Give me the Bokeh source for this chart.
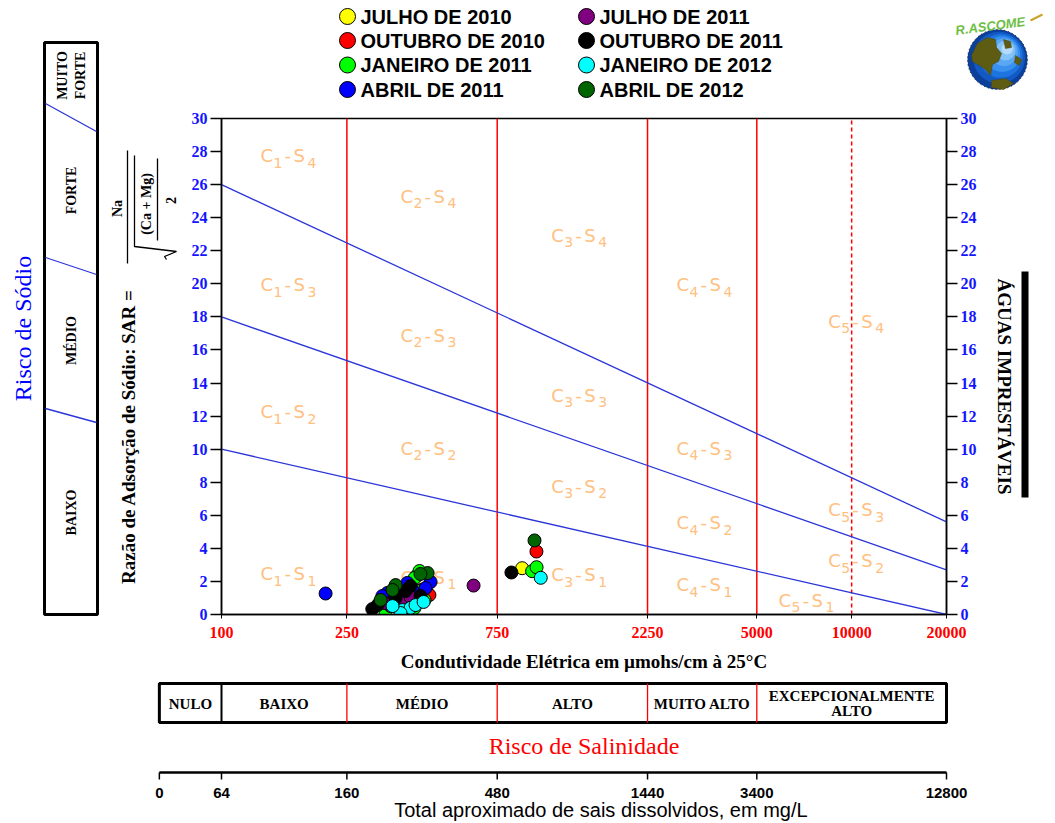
import math
from bokeh.plotting import figure
from bokeh.models import (Range1d, LinearAxis, LogAxis, FixedTicker, ColumnDataSource,
                          NumeralTickFormatter)
from bokeh.layouts import row, column
from bokeh.embed import file_html
from bokeh.resources import INLINE
from bokeh.core.properties import value

# ---------------------------------------------------------------------------
# Samples: electrical conductivity (µmhos/cm at 25 °C) and SAR, per campaign
# ---------------------------------------------------------------------------
series_names = ["JULHO DE 2010", "OUTUBRO DE 2010", "JANEIRO DE 2011", "ABRIL DE 2011",
                "JULHO DE 2011", "OUTUBRO DE 2011", "JANEIRO DE 2012", "ABRIL DE 2012"]
series_colors = ["#FFFF00", "#FF0000", "#00FF00", "#0000FF",
                 "#800080", "#000000", "#00FFFF", "#006400"]

ec_jul_2010 = [900, 416, 384, 344, 447]
sar_jul_2010 = [2.80, 2.33, 1.06, 0.70, 1.36]
ec_out_2010 = [999, 457, 431, 378, 339]
sar_out_2010 = [3.81, 1.18, 1.48, 0.88, 0.51]
ec_jan_2011 = [968, 1000, 425, 410, 441, 410, 331, 419]
sar_jan_2011 = [2.62, 2.86, 2.63, 2.21, 0.88, 0.40, 0.21, 1.42]
ec_abr_2011 = [214, 461, 444, 389, 370, 336, 324, 357, 404]
sar_abr_2011 = [1.27, 1.97, 1.60, 1.91, 1.30, 1.30, 1.12, 1.48, 1.48]
ec_jul_2011 = [631, 410, 434, 344, 329, 370, 398]
sar_jul_2011 = [1.75, 0.82, 0.82, 0.51, 0.70, 0.88, 1.06]
ec_out_2011 = [832, 384, 313, 301, 428, 357, 398]
sar_out_2011 = [2.54, 1.42, 0.57, 0.33, 1.12, 1.00, 1.72]
ec_jan_2012 = [1031, 375, 398, 413, 438, 370, 349]
sar_jan_2012 = [2.22, 0.27, 0.40, 0.57, 0.76, 0.09, 0.51]
ec_abr_2012 = [985, 451, 357, 349, 428, 320]
sar_abr_2012 = [4.48, 2.51, 1.78, 1.48, 2.45, 0.88]

series_ec = [ec_jul_2010, ec_out_2010, ec_jan_2011, ec_abr_2011,
             ec_jul_2011, ec_out_2011, ec_jan_2012, ec_abr_2012]
series_sar = [sar_jul_2010, sar_out_2010, sar_jan_2011, sar_abr_2011,
              sar_jul_2011, sar_out_2011, sar_jan_2012, sar_abr_2012]

# Axes
ec_ticks = [100, 250, 750, 2250, 5000, 10000, 20000]
ec_tick_labels = ["100", "250", "750", "2250", "5000", "10000", "20000"]
sar_ticks = [0, 2, 4, 6, 8, 10, 12, 14, 16, 18, 20, 22, 24, 26, 28, 30]

# Salinity class limits (EC)
salinity_limits = [250, 750, 2250, 5000]
salinity_limit_dashed = [10000]

# Sodium hazard boundaries: SAR at EC = 100 and at EC = 20000
boundary_sar_at_100 = [10, 18, 26]
boundary_sar_at_20000 = [0, 2.7, 5.6]

# Class labels C(salinity) - S(sodium)
zone_c = [1, 1, 1, 1, 2, 2, 2, 2, 3, 3, 3, 3, 4, 4, 4, 4, 5, 5, 5, 5]
zone_s = [4, 3, 2, 1, 4, 3, 2, 1, 4, 3, 2, 1, 4, 3, 2, 1, 4, 3, 2, 1]

# Salinity hazard table
salinity_classes = ["NULO", "BAIXO", "MÉDIO", "ALTO", "MUITO ALTO", "EXCEPCIONALMENTE|ALTO"]
salinity_edges = [63.5, 100, 250, 750, 2250, 5000, 20000]

# Approximate total dissolved salts (mg/L) scale
tds_ec = [63.5, 100, 250, 750, 2250, 5000, 20000]
tds_labels = ["0", "64", "160", "480", "1440", "3400", "12800"]

# Sodium hazard panel
sodium_classes = ["BAIXO", "MÉDIO", "FORTE", "MUITO|FORTE"]

# ---------------------------------------------------------------------------
# Page geometry (pixels)
# ---------------------------------------------------------------------------
W, H = 1055, 823
LEFT_W, TOP_H, RIGHT_W = 183, 105, 65
MAIN_W = W - LEFT_W - RIGHT_W
MAIN_H = 570
BOTTOM_H = H - TOP_H - MAIN_H
FRAME_L, FRAME_R, FRAME_T, FRAME_B = 221, 946, 118, 614

SERIF = value("Liberation Serif")
SANS = value("Liberation Sans")
BLUE_TXT = "#1414FF"
ZONE_COLOR = "#FFC080"


def blank(width, height, x_range, y_range, **kw):
    opts = dict(min_border=0)
    opts.update(kw)
    f = figure(width=width, height=height, x_range=x_range, y_range=y_range,
               output_backend="svg", toolbar_location=None,
               x_axis_location=None, y_axis_location=None,
               outline_line_color=None, background_fill_color="white",
               border_fill_color="white", **opts)
    f.grid.visible = False
    return f


# ---------------------------------------------------------------------------
# Main diagram
# ---------------------------------------------------------------------------
p = figure(width=MAIN_W, height=MAIN_H, x_axis_type="log",
           x_range=Range1d(ec_ticks[0], ec_ticks[-1]), y_range=Range1d(sar_ticks[0], sar_ticks[-1]),
           output_backend="svg", toolbar_location=None,
           x_axis_location=None, y_axis_location=None,
           min_border_left=FRAME_L - LEFT_W, min_border_right=LEFT_W + MAIN_W - FRAME_R,
           min_border_top=FRAME_T - TOP_H, min_border_bottom=TOP_H + MAIN_H - FRAME_B,
           outline_line_color="black", outline_line_width=1.5,
           background_fill_color="white", border_fill_color="white")
p.grid.visible = False

for side in ("left", "right"):
    ax = LinearAxis(ticker=FixedTicker(ticks=sar_ticks))
    ax.major_label_text_color = BLUE_TXT
    ax.major_label_text_font = "Liberation Serif"
    ax.major_label_text_font_style = "bold"
    ax.major_label_text_font_size = "16px"
    ax.major_tick_out = 11
    ax.major_tick_in = 0
    ax.minor_tick_out = 0
    ax.minor_tick_in = 0
    ax.axis_line_width = 1.5
    ax.major_tick_line_width = 1.5
    ax.major_label_standoff = 3
    p.add_layout(ax, side)

xax = LogAxis(ticker=FixedTicker(ticks=ec_ticks),
              formatter=NumeralTickFormatter(format="0"),
              major_label_overrides=dict(zip(ec_ticks, ec_tick_labels)),
              axis_label="Condutividade Elétrica em µmohs/cm à 25°C")
xax.major_label_text_color = "#FF0000"
xax.major_label_text_font = "Liberation Serif"
xax.major_label_text_font_style = "bold"
xax.major_label_text_font_size = "16px"
xax.major_tick_out = 4
xax.major_tick_in = 0
xax.minor_tick_out = 0
xax.minor_tick_in = 0
xax.axis_line_width = 1.5
xax.major_label_standoff = 8
xax.axis_label_text_font = "Liberation Serif"
xax.axis_label_text_font_style = "bold"
xax.axis_label_text_font_size = "19px"
xax.axis_label_text_color = "black"
xax.axis_label_standoff = 10
p.add_layout(xax, "below")

# salinity class limits
p.segment(x0=salinity_limits, y0=sar_ticks[0], x1=salinity_limits, y1=sar_ticks[-1],
          line_color="#FF0000", line_width=1.5)
p.segment(x0=salinity_limit_dashed, y0=sar_ticks[0], x1=salinity_limit_dashed, y1=sar_ticks[-1],
          line_color="#FF0000", line_width=1.5, line_dash="4 3")

# sodium hazard boundaries
n_b = len(boundary_sar_at_100)
p.segment(x0=[ec_ticks[0]] * n_b, y0=boundary_sar_at_100,
          x1=[ec_ticks[-1]] * n_b, y1=boundary_sar_at_20000,
          line_color="#2B35D8", line_width=1.3)

# class labels, drawn as pieces so the indices sit as subscripts
zone_label_ec = [133] * 4 + [370] * 4 + [1114] * 4 + [2780] * 4 + [8430, 8430, 8430, 5860]
zone_label_sar = [27.75, 19.95, 12.25, 2.45, 25.3, 16.9, 10.05, 2.25,
                  22.95, 13.25, 7.75, 2.4, 19.95, 10.05, 5.55, 1.8,
                  17.75, 6.35, 3.25, 0.85]
pieces = dict(x=[], y=[], text=[], dx=[], dy=[], size=[])
for c, s, ex, ey in zip(zone_c, zone_s, zone_label_ec, zone_label_sar):
    for txt, dx, dy, size in (("C", 0, 0, "18px"), (str(c), 13, 7, "14px"),
                              ("-", 24, 0, "18px"), ("S", 33, 0, "18px"),
                              (str(s), 47, 7, "14px")):
        pieces["x"].append(ex)
        pieces["y"].append(ey)
        pieces["text"].append(txt)
        pieces["dx"].append(dx)
        pieces["dy"].append(dy)
        pieces["size"].append(size)
p.text(x="x", y="y", text="text", x_offset="dx", y_offset="dy",
       text_font_size="size", text_font=value("DejaVu Sans"),
       text_color=ZONE_COLOR, text_align="left", text_baseline="alphabetic",
       source=ColumnDataSource(pieces))

for ec, sar, col in zip(series_ec, series_sar, series_colors):
    p.scatter(ec, sar, size=13, fill_color=col, line_color="black", line_width=1)

# ---------------------------------------------------------------------------
# Left panel: sodium hazard scale and SAR formula
# ---------------------------------------------------------------------------
left = blank(LEFT_W, TOP_H + MAIN_H, Range1d(0, LEFT_W), Range1d(TOP_H + MAIN_H, 0))
left.text(x=[22], y=[328], text=["Risco de Sódio"], angle=math.pi / 2,
          text_font=SERIF, text_font_size="24px", text_color="#0000FF",
          text_align="center", text_baseline="middle")
left.quad(left=[44], right=[97], top=[42], bottom=[FRAME_B], fill_color=None,
          line_color="black", line_width=3)
left.segment(x0=[45, 45, 45], y0=[408, 257, 103], x1=[96, 96, 96], y1=[422, 274, 131],
             line_color="#2B35D8", line_width=1.3)
box_txt_x, box_txt_y, box_txt = [], [], []
for name, yc in zip(sodium_classes, [512, 340, 190, 75]):
    parts = name.split("|")
    for k, part in enumerate(parts):
        box_txt_x.append(71 + (k - (len(parts) - 1) / 2) * 18)
        box_txt_y.append(yc)
        box_txt.append(part)
left.text(x=box_txt_x, y=box_txt_y, text=box_txt, angle=math.pi / 2,
          text_font=SERIF, text_font_style="bold", text_font_size="14px",
          text_color="black", text_align="center", text_baseline="middle")

left.text(x=[128], y=[436], text=["Razão de Adsorção de Sódio: SAR ="], angle=math.pi / 2,
          text_font=SERIF, text_font_style="bold", text_font_size="19px",
          text_color="black", text_align="center", text_baseline="middle")
left.text(x=[117, 146, 170], y=[208, 200, 200], text=["Na", "(Ca  +  Mg)", "2"],
          angle=math.pi / 2, text_font=SERIF, text_font_style="bold",
          text_font_size="14px", text_color="black",
          text_align="center", text_baseline="middle")
left.segment(x0=[127, 157], y0=[150, 158], x1=[127, 157], y1=[263, 240],
             line_color="black", line_width=1.3)
left.line(x=[134, 134, 176, 164, 166], y=[155, 246, 251, 256, 259],
          line_color="black", line_width=1.3)

# ---------------------------------------------------------------------------
# Top panel: legend and logo
# ---------------------------------------------------------------------------
top = blank(W - LEFT_W, TOP_H, Range1d(LEFT_W, W), Range1d(TOP_H, 0))
leg_x = [347 if i < 4 else 586 for i in range(len(series_names))]
leg_y = [[16, 40, 64.5, 89][i % 4] for i in range(len(series_names))]
top.scatter(leg_x, leg_y, size=16, fill_color=series_colors, line_color="black", line_width=1)
top.text(x=[x + 13 for x in leg_x], y=leg_y, text=series_names,
         text_font=SANS, text_font_style="bold", text_font_size="20px",
         text_color="black", text_align="left", text_baseline="middle")

gx, gy, gr = 997, 59, 30
shades = ["#0B3F9A", "#1259C4", "#1E74DE", "#3A90EE", "#5AA8F4", "#84C2F8", "#B4DBFB"]
for i, col in enumerate(shades):
    f = 1 - i * 0.135
    top.circle(x=[gx + i * 1.6], y=[gy - i * 1.8], radius=gr * f, fill_color=col, line_color=None)
top.circle(x=[gx], y=[gy], radius=gr, fill_color=None, line_color="#1a1a1a",
           line_width=1, line_dash="1 3")
land = [
    [(-26, -4), (-20, -16), (-10, -22), (-2, -20), (-1, -12), (4, -6), (1, 2), (-5, 5),
     (-7, 16), (-12, 10), (-18, 6), (-25, 2)],
    [(6, -20), (13, -18), (14, -12), (8, -11)],
    [(-6, 21), (8, 19), (16, 24), (6, 30), (-6, 28)],
    [(18, -4), (24, 0), (22, 6), (17, 3)],
]
top.patches(xs=[[gx + a for a, b in poly] for poly in land],
            ys=[[gy + b for a, b in poly] for poly in land],
            fill_color="#5E5B12", line_color="#4A470C", line_width=0.5)
top.text(x=[955], y=[30], text=["R.ASCOME"], angle=0.13,
         text_font=SANS, text_font_style="bold italic", text_font_size="13px",
         text_color="#6DBE45", text_align="left", text_baseline="alphabetic")
top.segment(x0=[1030], y0=[20], x1=[1042], y1=[14], line_color="#C9A227", line_width=2)

# ---------------------------------------------------------------------------
# Right panel (its frame lines up with the diagram frame)
# ---------------------------------------------------------------------------
right = blank(RIGHT_W, MAIN_H, Range1d(W - RIGHT_W, W), Range1d(FRAME_B, FRAME_T),
              min_border_top=FRAME_T - TOP_H, min_border_bottom=TOP_H + MAIN_H - FRAME_B)
right.text(x=[1004], y=[386], text=["ÁGUAS IMPRESTÁVEIS"], angle=-math.pi / 2,
           text_font=SERIF, text_font_style="bold", text_font_size="19px",
           text_color="black", text_align="center", text_baseline="middle")
right.quad(left=[1021], right=[1028], top=[271], bottom=[497], fill_color="black", line_color=None)

# ---------------------------------------------------------------------------
# Bottom panel: salinity hazard table and TDS scale (same EC log scale)
# ---------------------------------------------------------------------------
dpp = math.log10(ec_ticks[-1] / ec_ticks[0]) / (FRAME_R - FRAME_L)
bx0 = 10 ** (math.log10(ec_ticks[0]) - FRAME_L * dpp)
bx1 = 10 ** (math.log10(ec_ticks[0]) + (W - FRAME_L) * dpp)
bottom = blank(W, BOTTOM_H, Range1d(bx0, bx1), Range1d(H, H - BOTTOM_H), x_axis_type="log")

bottom.quad(left=[salinity_edges[0]], right=[salinity_edges[-1]], top=[683], bottom=[722],
            fill_color=None, line_color="black", line_width=3)
bottom.segment(x0=[salinity_edges[1]], y0=[683], x1=[salinity_edges[1]], y1=[722],
               line_color="black", line_width=2)
bottom.segment(x0=salinity_edges[2:-1], y0=683, x1=salinity_edges[2:-1], y1=722,
               line_color="#FF0000", line_width=1.3)
tab_x, tab_y, tab_t = [], [], []
for k, name in enumerate(salinity_classes):
    xc = math.sqrt(salinity_edges[k] * salinity_edges[k + 1])
    parts = name.split("|")
    for j, part in enumerate(parts):
        tab_x.append(xc)
        tab_y.append(703 + (j - (len(parts) - 1) / 2) * 15)
        tab_t.append(part)
bottom.text(x=tab_x, y=tab_y, text=tab_t, text_font=SERIF, text_font_style="bold",
            text_font_size="15px", text_color="black",
            text_align="center", text_baseline="middle")
bottom.text(x=[math.sqrt(ec_ticks[0] * ec_ticks[-1])], y=[745], text=["Risco de Salinidade"],
            text_font=SERIF, text_font_size="24px", text_color="#FF0000",
            text_align="center", text_baseline="middle")

bottom.segment(x0=[tds_ec[0]], y0=[772], x1=[tds_ec[-1]], y1=[772],
               line_color="black", line_width=2.5)
bottom.segment(x0=tds_ec, y0=772, x1=tds_ec, y1=779, line_color="black", line_width=1.5)
bottom.text(x=tds_ec, y=[792] * len(tds_ec), text=tds_labels,
            text_font=SANS, text_font_style="bold",
            text_font_size="15px", text_color="black",
            text_align="center", text_baseline="middle")
bottom.text(x=[1600], y=[809], text=["Total aproximado de sais dissolvidos, em mg/L"],
            text_font=SANS, text_font_size="20px",
            text_color="black", text_align="center", text_baseline="middle")

layout = column(row(left, column(top, row(p, right))), bottom)

open("out.html", "w").write(file_html(layout, INLINE))
